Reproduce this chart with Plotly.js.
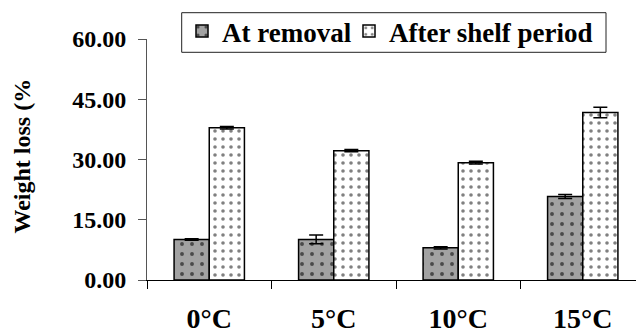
<!DOCTYPE html>
<html><head><meta charset="utf-8">
<script src="https://cdn.plot.ly/plotly-3.0.1.min.js"></script>
<style>html,body{margin:0;padding:0;overflow:hidden;background:#fff}#chart{width:660px;height:328px}</style>
</head><body><div id="chart"></div>
<script>
const categories = ['0°C', '5°C', '10°C', '15°C'];
const atRemoval = [10.1, 10.1, 8.0, 20.8];
const atRemovalErr = [0.2, 1.1, 0.3, 0.5];
const afterShelf = [37.9, 32.2, 29.2, 41.7];
const afterShelfErr = [0.3, 0.3, 0.35, 1.3];
const yTicks = [0, 15, 30, 45, 60];
const yTickLabels = ['0.00', '15.00', '30.00', '45.00', '60.00'];

const serif = 'Liberation Serif';
const W = 660, H = 328, ML = 147, MR = 15, MT = 39, MB = 48;
const pw = W - ML - MR, ph = H - MT - MB;
const px2x = p => (p - ML) / pw;
const px2y = p => (H - MB - p) / ph;

const traces = [
  {type: 'bar', name: 'At removal', x: categories, y: atRemoval, legend: 'legend',
   error_y: {type: 'data', array: atRemovalErr, visible: true, color: '#000', thickness: 1.5, width: 7},
   marker: {color: '#9c9c9c', line: {color: '#000', width: 1.5},
            pattern: {shape: '.', bgcolor: '#a2a2a2', fgcolor: '#4a4a4a', size: 10, solidity: 0.12}}},
  {type: 'bar', name: 'After shelf period', x: categories, y: afterShelf, legend: 'legend2',
   error_y: {type: 'data', array: afterShelfErr, visible: true, color: '#000', thickness: 1.5, width: 7},
   marker: {color: '#ffffff', line: {color: '#000', width: 1.5},
            pattern: {shape: '.', bgcolor: '#ffffff', fgcolor: '#808080', size: 8, solidity: 0.16}}}
];
const legendFont = {family: serif, size: 27, color: '#000', weight: 'bold'};
const layout = {
  width: W, height: H,
  margin: {l: ML, r: MR, t: MT, b: MB, autoexpand: false},
  paper_bgcolor: '#fff', plot_bgcolor: '#fff',
  barmode: 'group', bargap: 0.435, bargroupgap: 0,
  showlegend: true,
  legend: {orientation: 'h', x: 182 / W, xref: 'container', xanchor: 'left',
           y: 1 - 7 / H, yref: 'container', yanchor: 'top',
           borderwidth: 0, bgcolor: 'rgba(0,0,0,0)', font: legendFont, itemwidth: 30},
  legend2: {orientation: 'h', x: 349 / W, xref: 'container', xanchor: 'left',
           y: 1 - 7 / H, yref: 'container', yanchor: 'top',
           borderwidth: 0, bgcolor: 'rgba(0,0,0,0)', font: legendFont, itemwidth: 30},
  shapes: [{type: 'rect', xref: 'paper', yref: 'paper',
            x0: px2x(181.7), x1: px2x(606), y0: px2y(52.3), y1: px2y(12.7),
            line: {color: '#222', width: 1}, fillcolor: '#fff', layer: 'below'}],
  xaxis: {type: 'category', range: [-0.5, 3.5], showline: true, linecolor: '#000', linewidth: 1,
          ticks: 'outside', tickson: 'boundaries', ticklen: 8, tickcolor: '#000', tickwidth: 1,
          tickfont: {family: serif, size: 28, color: '#000', weight: 'bold'},
          ticklabelstandoff: 13, showgrid: false, zeroline: false, fixedrange: true},
  yaxis: {range: [0, 60], tickvals: yTicks, ticktext: yTickLabels, showline: true,
          linecolor: '#555', linewidth: 1, ticks: 'outside', ticklen: 8, tickcolor: '#555',
          tickfont: {family: serif, size: 24, color: '#000', weight: 'bold'},
          ticklabelstandoff: 7, showgrid: false, zeroline: false, fixedrange: true},
  annotations: [{text: 'Weight loss (%', xref: 'paper', yref: 'paper', x: px2x(21.5), y: px2y(156),
                 xanchor: 'center', yanchor: 'middle', textangle: -90, showarrow: false,
                 font: {family: serif, size: 24, color: '#000', weight: 'bold'}}]
};
Plotly.newPlot('chart', traces, layout, {displayModeBar: false, staticPlot: true});
</script></body></html>
